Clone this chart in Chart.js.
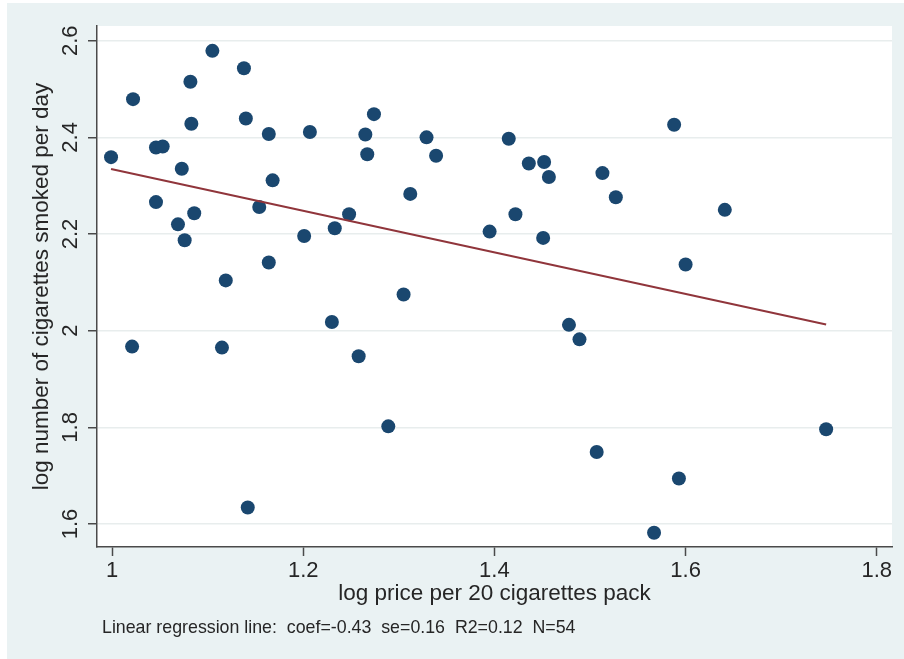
<!DOCTYPE html>
<html>
<head>
<meta charset="utf-8">
<script src="https://cdn.jsdelivr.net/npm/chart.js@4.4.1/dist/chart.umd.min.js"></script>
<style>
  html, body { margin: 0; padding: 0; background: #ffffff; }
  canvas { display: block; }
</style>
</head>
<body>
<canvas id="chart" width="904" height="659"></canvas>
<script>
// log price per 20-cigarette pack, one value per observation
const logPrice = [
  0.999, 1.022, 1.046, 1.053, 1.073, 1.082, 1.083, 1.105, 1.138, 1.140,
  1.164, 1.168, 1.046, 1.086, 1.154, 1.069, 1.076, 1.164, 1.119, 1.021,
  1.115, 1.142, 1.207, 1.274, 1.265, 1.267, 1.329, 1.339, 1.312, 1.248,
  1.233, 1.201, 1.415, 1.436, 1.452, 1.457, 1.422, 1.395, 1.451, 1.305,
  1.230, 1.258, 1.289, 1.478, 1.489, 1.507, 1.588, 1.513, 1.527, 1.641,
  1.600, 1.593, 1.567, 1.747
];

// log number of cigarettes smoked per day, same order as logPrice
const logCigs = [
  2.359, 2.479, 2.379, 2.381, 2.335, 2.515, 2.428, 2.579, 2.543, 2.439,
  2.407, 2.311, 2.266, 2.243, 2.256, 2.220, 2.187, 2.141, 2.104, 1.967,
  1.965, 1.634, 2.411, 2.448, 2.406, 2.365, 2.400, 2.362, 2.283, 2.241,
  2.212, 2.196, 2.397, 2.346, 2.349, 2.318, 2.241, 2.205, 2.192, 2.075,
  2.018, 1.947, 1.802, 2.012, 1.982, 1.749, 2.426, 2.326, 2.276, 2.250,
  2.137, 1.694, 1.582, 1.796
];

const xTicks = [1, 1.2, 1.4, 1.6, 1.8];
const yTicks = [1.6, 1.8, 2, 2.2, 2.4, 2.6];

// fitted line: y = regIntercept + regCoef * x
const regCoef = -0.43;
const regIntercept = 2.764;
const regNote = 'Linear regression line:  coef=-0.43  se=0.16  R2=0.12  N=54';

const xTitle = 'log price per 20 cigarettes pack';
const yTitle = 'log number of cigarettes smoked per day';

const points = logPrice.map((x, i) => ({ x: x, y: logCigs[i] }));
const xLo = Math.min(...logPrice);
const xHi = Math.max(...logPrice);
const fitLine = [
  { x: xLo, y: regIntercept + regCoef * xLo },
  { x: xHi, y: regIntercept + regCoef * xHi }
];

const FONT = "'Liberation Sans', Arial, Helvetica, sans-serif";
const INK = '#262626';
const AXIS = '#4a4a4a';

// Stata-like backdrop: bluish-grey graph region, white plot region, note line
const backdrop = {
  id: 'backdrop',
  beforeDraw(chart) {
    const { ctx, width, height, chartArea: a } = chart;
    ctx.save();
    ctx.fillStyle = '#ffffff';
    ctx.fillRect(0, 0, width, height);
    ctx.fillStyle = '#eaf2f3';
    ctx.fillRect(7, 3, width - 7, height - 3);
    ctx.fillStyle = '#ffffff';
    ctx.fillRect(a.left, a.top, a.right - a.left, a.bottom - a.top);
    ctx.restore();
  },
  afterDraw(chart) {
    const { ctx, chartArea: a } = chart;
    ctx.save();
    ctx.font = '17.8px ' + FONT;
    ctx.fillStyle = INK;
    ctx.textAlign = 'left';
    ctx.textBaseline = 'alphabetic';
    ctx.fillText(regNote, a.left + 5, a.bottom + 86);
    ctx.restore();
  }
};

Chart.defaults.font.family = FONT;

new Chart(document.getElementById('chart'), {
  type: 'scatter',
  data: {
    datasets: [
      {
        label: 'Linear fit',
        data: fitLine,
        showLine: true,
        borderColor: '#90353b',
        borderWidth: 2,
        pointRadius: 0,
        fill: false
      },
      {
        label: 'Observations',
        data: points,
        backgroundColor: '#1a476f',
        borderWidth: 0,
        pointRadius: 7,
        pointHoverRadius: 7
      }
    ]
  },
  plugins: [backdrop],
  options: {
    responsive: false,
    devicePixelRatio: 1,
    animation: false,
    layout: { padding: { top: 26, right: 12, bottom: 0, left: 0 } },
    plugins: {
      legend: { display: false },
      tooltip: { enabled: false }
    },
    scales: {
      x: {
        type: 'linear',
        min: 0.9843,
        max: 1.8159,
        afterBuildTicks: s => { s.ticks = xTicks.map(v => ({ value: v })); },
        afterFit: s => { s.height = 112; },
        grid: { drawOnChartArea: false, drawTicks: true, tickLength: 9, tickColor: AXIS, tickWidth: 1.5 },
        border: { color: AXIS, width: 1.5 },
        ticks: {
          color: INK,
          padding: 2,
          maxRotation: 0,
          font: { size: 22 },
          callback: v => String(v)
        },
        title: {
          display: true,
          text: xTitle,
          color: INK,
          font: { size: 22.5 },
          padding: { top: 0, bottom: 51.5 }
        }
      },
      y: {
        type: 'linear',
        min: 1.5524,
        max: 2.6304,
        afterBuildTicks: s => { s.ticks = yTicks.map(v => ({ value: v })); },
        afterFit: s => { s.width = 97; },
        grid: { color: '#e8eded', lineWidth: 1.5, drawTicks: true, tickLength: 9, tickColor: AXIS, tickWidth: 1.5 },
        border: { color: AXIS, width: 1.5 },
        ticks: {
          color: INK,
          padding: 2,
          minRotation: 90,
          maxRotation: 90,
          crossAlign: 'center',
          font: { size: 22 },
          callback: v => String(v)
        },
        title: {
          display: true,
          text: yTitle,
          color: INK,
          font: { size: 22.5 },
          padding: { top: 28.5, bottom: 0 }
        }
      }
    }
  }
});
</script>
</body>
</html>
